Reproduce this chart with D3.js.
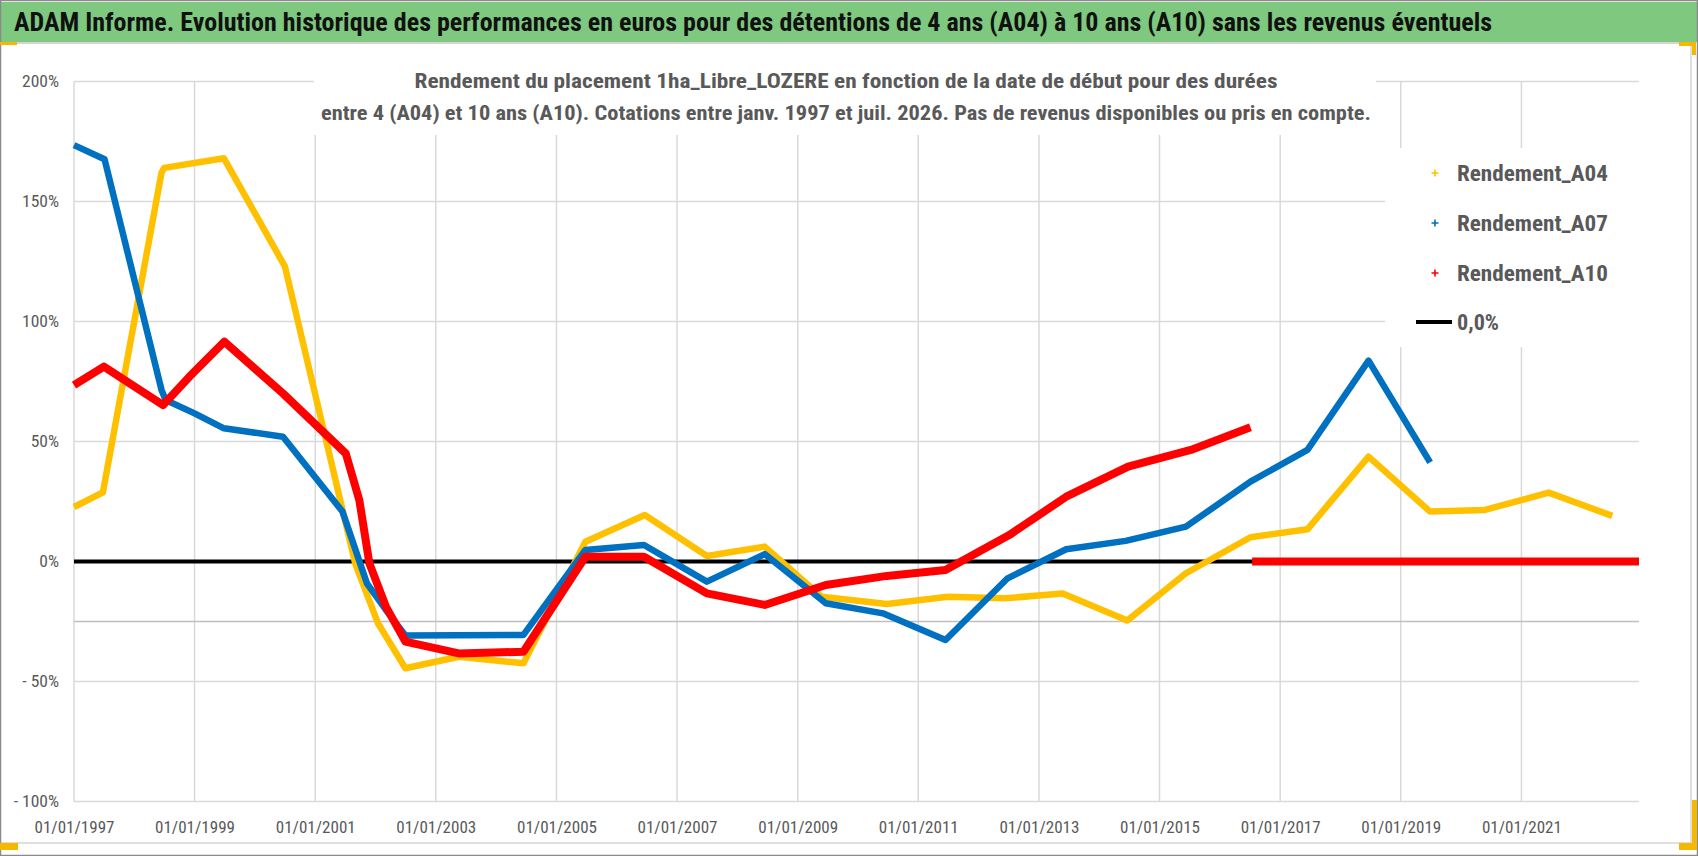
<!DOCTYPE html>
<html>
<head>
<meta charset="utf-8">
<script src="https://cdn.jsdelivr.net/npm/d3@7"></script>
<style>
  body { margin: 0; background: #fff; }
  svg { display: block; }
</style>
</head>
<body>
<svg id="chart" width="1698" height="856"></svg>
<script>

//#region data

const titleText = 'ADAM Informe. Evolution historique des performances en euros pour des détentions de 4 ans (A04) à 10 ans (A10) sans les revenus éventuels';
const subtitleLines = [
    'Rendement du placement 1ha_Libre_LOZERE en fonction de la date de début pour des durées',
    'entre 4 (A04) et 10 ans (A10). Cotations entre janv. 1997 et juil. 2026. Pas de revenus disponibles ou pris en compte.'
];

const seriesNames = ['Rendement_A04', 'Rendement_A07', 'Rendement_A10', '0,0%'];

const dates_A04 = ['1997-01-01','1997-06-25','1998-06-15','1998-07-01','1999-06-28','2000-07-01','2001-09-01','2002-01-15','2002-07-01',
                   '2003-05-20','2004-06-15','2005-06-25','2006-06-20','2007-07-01','2008-06-15','2009-05-25','2010-06-25','2011-07-01',
                   '2012-06-15','2013-05-25','2014-06-20','2015-06-10','2016-07-05','2017-06-15','2018-06-20','2019-06-28','2020-05-25',
                   '2021-06-15','2022-07-05'];
const values_A04 = [22.7, 28.8, 162, 164, 168, 123, -1, -25.6, -44.5,
                    -39.7, -42.4, 8.2, 19.4, 2.3, 6.2, -14.7, -17.7, -14.7,
                    -15.3, -13.3, -24.6, -4.9, 10.1, 13.4, 43.7, 20.8, 21.5,
                    28.7, 19];

const dates_A07 = ['1997-01-01','1997-07-05','1998-06-15','1998-07-10','1999-01-01','1999-06-28','2000-06-20','2001-06-15','2001-11-10',
                   '2002-03-05','2002-07-01','2004-06-15','2005-06-25','2006-06-15','2007-07-01','2008-06-15','2009-06-20','2010-06-01',
                   '2011-06-15','2012-06-25','2013-06-15','2014-06-10','2015-06-10','2016-07-05','2017-06-15','2018-06-20','2019-06-28'];
const values_A07 = [173.5, 167.6, 71.5, 67.3, 61.7, 55.5, 52, 20.8, -9.1,
                    -20.2, -30.8, -30.6, 4.8, 6.9, -8.4, 3.1, -17.4, -21.6,
                    -32.7, -7, 5.1, 8.6, 14.5, 33.3, 46.5, 83.7, 41.3];

// A10 has no value after mid-2016: the sheet plots those days at 0
const dates_A10 = ['1997-01-01','1997-07-01','1998-06-25','1998-12-01','1999-07-01','2000-06-20','2001-07-05','2001-09-25','2001-11-25',
                   '2002-03-05','2002-07-01','2003-05-20','2004-06-15','2005-06-25','2006-06-15','2007-07-01','2008-06-15','2009-06-20',
                   '2010-06-25','2011-06-15','2012-07-05','2013-06-15','2014-06-25','2015-07-10','2016-07-05',
                   '2016-07-10','2016-07-15','2022-12-14'];
const values_A10 = [73.5, 81.2, 65.2, 77, 91.6, 70, 45, 25.6, -0.8,
                    -18.8, -33.4, -38.3, -37.6, 2, 2, -13.3, -18.1, -9.8,
                    -6, -3.5, 11, 27, 39.5, 46.5, 55.9,
                    null, 0, 0];

const dates_zero  = ['1997-01-01', '2022-12-14'];
const values_zero = [0, 0];

const xDomain     = ['1997-01-01', '2022-12-14'];
const xTickDates  = ['1997-01-01','1999-01-01','2001-01-01','2003-01-01','2005-01-01','2007-01-01','2009-01-01',
                     '2011-01-01','2013-01-01','2015-01-01','2017-01-01','2019-01-01','2021-01-01','2023-01-01'];
const yTicks      = [-100, -50, 0, 50, 100, 150, 200];
const yTickLabels = ['- 100%', '- 50%', '0%', '50%', '100%', '150%', '200%'];
const axisCross   = -25;   // the darker horizontal line (category axis crossing)

//#endregion


//#region layout

const W = 1698, H = 856;
const plot = { left: 74, right: 1639, top: 81.5, bottom: 801.5 };

const fontFamily = "'Liberation Sans Narrow', 'Arial Narrow', 'Roboto Condensed', Roboto, 'Open Sans', sans-serif";
const textGray = '#595959';
const gridColor = '#d9d9d9';
const colors = ['#FFC000', '#0070C0', '#FF0000', '#000000'];
const widths = [6.5, 6.5, 8, 4.2];

//#endregion


const parse = d3.timeParse('%Y-%m-%d');
const svg = d3.select('#chart');

// force a text to a measured width from the picture
function fitWidth(sel, w){
    sel.attr('textLength', w).attr('lengthAdjust', 'spacingAndGlyphs');
}
// squeeze every text of a selection by the ratio found on one sample
function squeeze(sel, k){
    sel.each(function(){
        let w = this.getComputedTextLength();
        d3.select(this).attr('textLength', w * k).attr('lengthAdjust', 'spacingAndGlyphs');
    });
}

svg.append('rect').attr('width', W).attr('height', H).attr('fill', '#fff');

// green title band
svg.append('rect').attr('x', 1).attr('y', 2).attr('width', W - 2).attr('height', 40).attr('fill', '#7ec87f');
svg.append('line').attr('x1', 0).attr('x2', 1691).attr('y1', 43).attr('y2', 43).attr('stroke', '#d4d4d4').attr('stroke-width', 2);
svg.append('line').attr('x1', 1691).attr('x2', 1691).attr('y1', 43).attr('y2', 843).attr('stroke', '#d4d4d4').attr('stroke-width', 1.5);
svg.append('line').attr('x1', 0).attr('x2', 1691).attr('y1', 843).attr('y2', 843).attr('stroke', '#d4d4d4').attr('stroke-width', 1.5);
svg.append('rect').attr('x', 0.5).attr('y', 0.5).attr('width', W - 1).attr('height', H - 1)
    .attr('fill', 'none').attr('stroke', '#8a8a8a').attr('stroke-width', 1.5);

const title = svg.append('text')
    .attr('x', 14).attr('y', 22).attr('dy', '0.35em')
    .attr('font-family', fontFamily).attr('font-weight', 'bold').attr('font-size', 25.5)
    .attr('fill', '#111').text(titleText);
fitWidth(title, 1478);

// scales
const x = d3.scaleTime().domain(xDomain.map(parse)).range([plot.left, plot.right]);
const y = d3.scaleLinear().domain([-100, 200]).range([plot.bottom, plot.top]);

// gridlines
const gridG = svg.append('g');
gridG.selectAll('.vgrid').data(xTickDates.map(parse).filter(d => x(d) <= plot.right + 0.5))
    .join('line').attr('class', 'vgrid')
    .attr('x1', d => x(d)).attr('x2', d => x(d))
    .attr('y1', plot.top).attr('y2', plot.bottom)
    .attr('stroke', gridColor).attr('stroke-width', 1.5);
gridG.selectAll('.hgrid').data(yTicks)
    .join('line').attr('class', 'hgrid')
    .attr('x1', plot.left).attr('x2', plot.right)
    .attr('y1', d => y(d)).attr('y2', d => y(d))
    .attr('stroke', gridColor).attr('stroke-width', 1.5);
gridG.append('line')
    .attr('x1', plot.left).attr('x2', plot.right)
    .attr('y1', y(axisCross)).attr('y2', y(axisCross))
    .attr('stroke', '#bfbfbf').attr('stroke-width', 1.5);

// y axis labels
const yAxis = svg.append('g')
    .attr('transform', `translate(${plot.left - 15},0)`)
    .call(d3.axisLeft(y).tickValues(yTicks).tickSize(0).tickPadding(0)
        .tickFormat((d, i) => yTickLabels[i]));
yAxis.select('.domain').remove();
yAxis.selectAll('text')
    .attr('font-family', fontFamily).attr('font-size', 17).attr('fill', textGray);
{
    let sample = yAxis.selectAll('text').filter(d => d === 200).node();
    squeeze(yAxis.selectAll('text'), 37 / sample.getComputedTextLength());
}

// x axis labels
const xAxis = svg.append('g')
    .attr('transform', `translate(0,${plot.bottom})`)
    .call(d3.axisBottom(x).tickValues(xTickDates.map(parse).filter(d => x(d) <= plot.right))
        .tickSize(0).tickPadding(0).tickFormat(d3.timeFormat('%d/%m/%Y')));
xAxis.select('.domain').remove();
xAxis.selectAll('text')
    .attr('y', 26).attr('dy', '0.35em')
    .attr('font-family', fontFamily).attr('font-size', 17).attr('fill', textGray);
fitWidth(xAxis.selectAll('text'), 80);

// chart title box (white, covers the gridlines)
svg.append('rect').attr('x', 314).attr('y', 60).attr('width', 1062).attr('height', 75).attr('fill', '#fff');
const subWidths = [863, 1050];
const subY = [80.5, 113];
subtitleLines.forEach((t, i) => {
    let s = svg.append('text')
        .attr('x', 846).attr('y', subY[i]).attr('dy', '0.35em').attr('text-anchor', 'middle')
        .attr('font-family', fontFamily).attr('font-weight', 'bold').attr('font-size', 20)
        .attr('fill', textGray).text(t);
    fitWidth(s, subWidths[i]);
});

// series
const seriesData = [
    [dates_A04, values_A04],
    [dates_A07, values_A07],
    [dates_A10, values_A10]
];
const line = d3.line()
    .defined(d => d.v !== null)
    .x(d => x(d.date))
    .y(d => y(d.v));

function toPoints(dates, values){
    return dates.map((d, i) => ({ date: parse(d), v: values[i] }));
}

svg.append('path')
    .datum(toPoints(dates_zero, values_zero))
    .attr('d', line).attr('fill', 'none')
    .attr('stroke', colors[3]).attr('stroke-width', widths[3]);

seriesData.forEach((s, i) => {
    svg.append('path')
        .datum(toPoints(s[0], s[1]))
        .attr('d', line).attr('fill', 'none')
        .attr('stroke', colors[i]).attr('stroke-width', widths[i])
        .attr('stroke-linejoin', 'round').attr('stroke-linecap', 'butt');
});

// legend box (white, covers the gridlines)
svg.append('rect').attr('x', 1385).attr('y', 148).attr('width', 256).attr('height', 199).attr('fill', '#fff');
const legendY = [173, 223, 273, 322];
seriesNames.forEach((name, i) => {
    let g = svg.append('g').attr('transform', `translate(0,${legendY[i]})`);
    if(i < 3){
        g.append('path').attr('d', 'M1431.5,0H1438.5M1435,-3.5V3.5')
            .attr('stroke', colors[i]).attr('stroke-width', 1.6);
    } else {
        g.append('line').attr('x1', 1416).attr('x2', 1452).attr('y1', 0).attr('y2', 0)
            .attr('stroke', colors[i]).attr('stroke-width', 4.2);
    }
    let t = g.append('text').attr('x', 1457).attr('dy', '0.35em')
        .attr('font-family', fontFamily).attr('font-weight', 'bold').attr('font-size', 22)
        .attr('fill', textGray).text(name);
    fitWidth(t, i < 3 ? 151 : 42);
});

// orange selection handles on the chart corners
const handleColor = '#f5b800';
[[0, 42, 17, 3], [1679, 42, 17, 4], [1692, 42, 4, 13], [0, 843, 18, 7], [1679, 843, 18, 7], [1692, 800, 5, 50]]
    .forEach(h => svg.append('rect').attr('x', h[0]).attr('y', h[1]).attr('width', h[2]).attr('height', h[3]).attr('fill', handleColor));

</script>
</body>
</html>
